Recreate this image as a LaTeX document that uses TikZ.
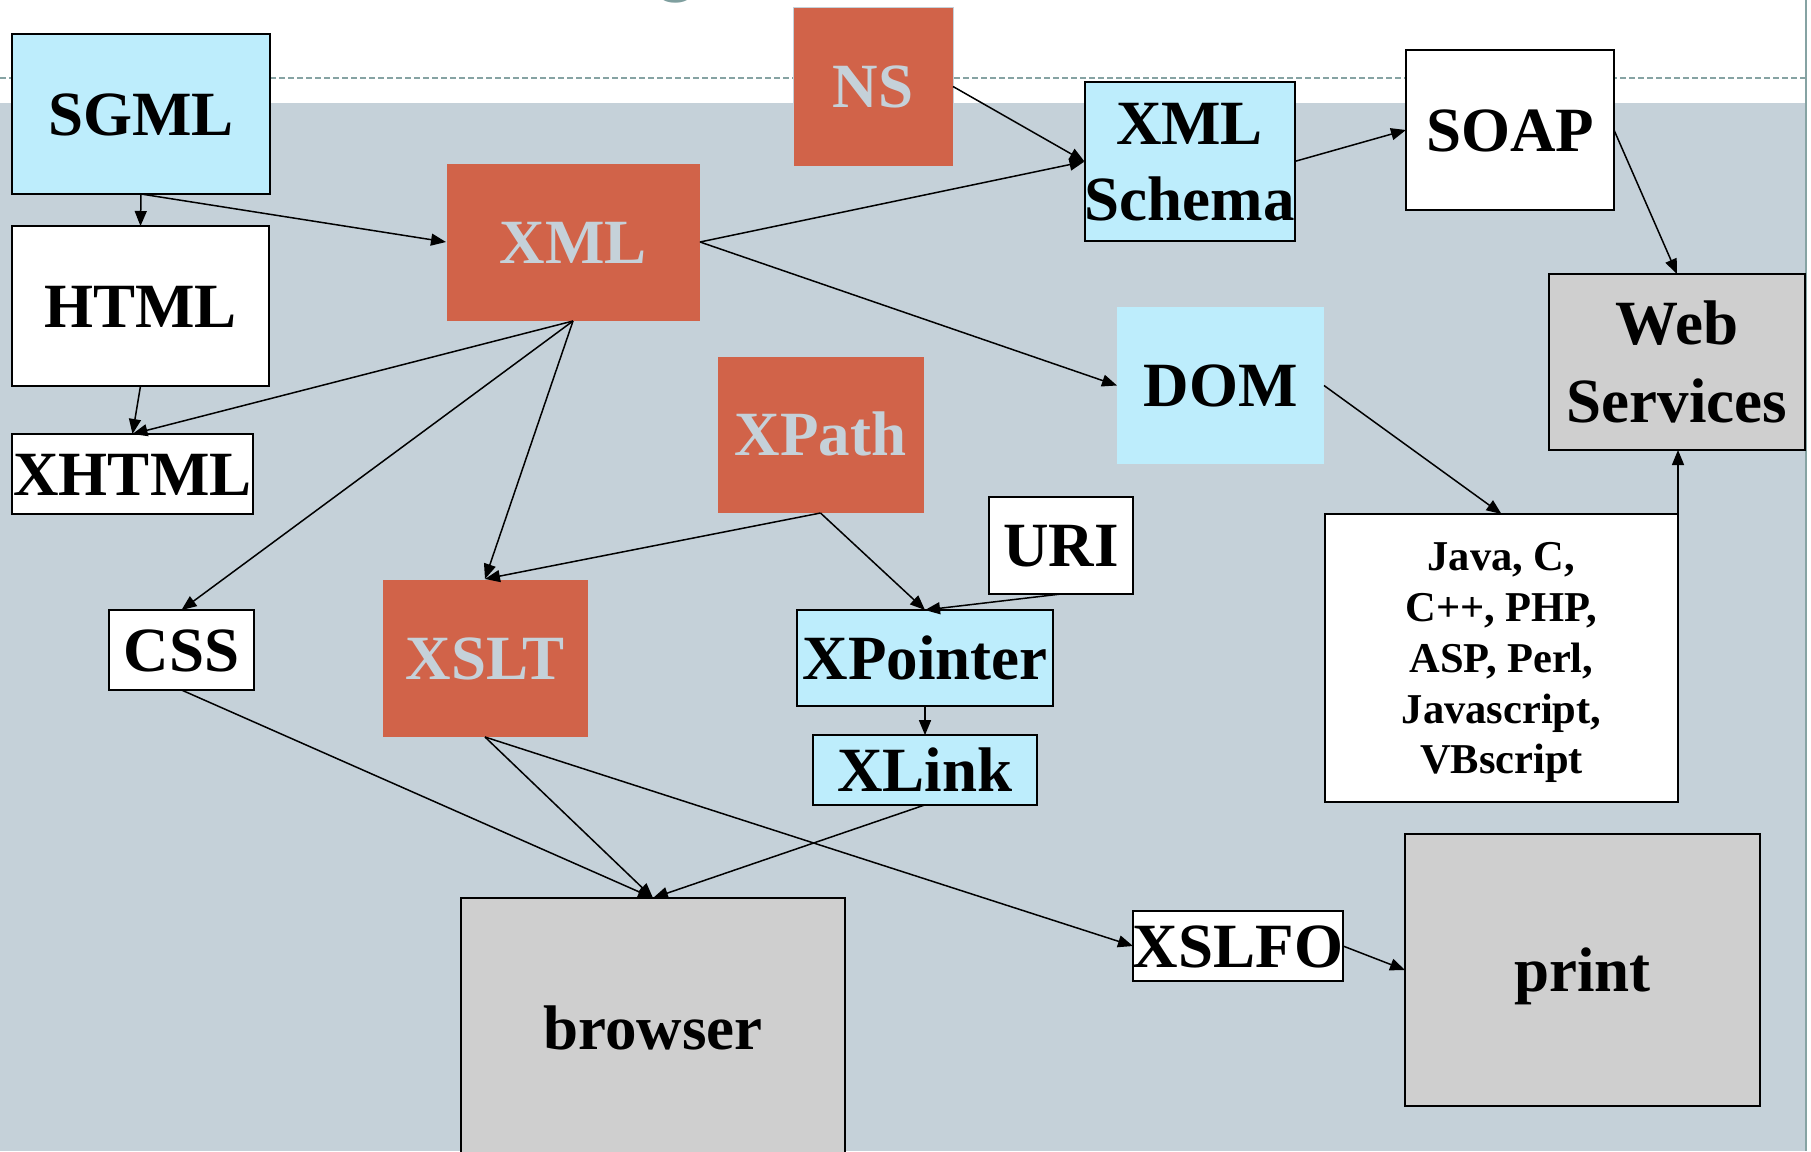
\documentclass[tikz,border=0pt]{standalone}
\usepackage{fontspec}
\setmainfont{Liberation Serif}
\newfontfamily\titlefont{Liberation Sans}
\usetikzlibrary{arrows.meta}
\definecolor{bgc}{HTML}{C5D1D9}
\definecolor{orng}{HTML}{D16349}
\definecolor{lblue}{HTML}{BDEDFC}
\definecolor{gbox}{HTML}{CFCFCF}
\definecolor{tealline}{HTML}{86A3A3}
\definecolor{titlec}{HTML}{7F9F9F}
\newcommand\mystrut{\rule[-0.216em]{0pt}{1.107em}}
\newcommand\bigf{\fontsize{63bp}{76bp}\selectfont\bfseries}
\newcommand\smallf{\fontsize{42.5bp}{50.8bp}\selectfont\bfseries}
\tikzset{
  sz/.style 2 args={minimum width=#1bp, minimum height=#2bp},
  box/.style={rectangle, inner sep=0pt, outer sep=0pt, font=\bigf, align=center},
  bluebox/.style={box, fill=lblue, draw=black, line width=2bp},
  whitebox/.style={box, fill=white, draw=black, line width=2bp},
  graybox/.style={box, fill=gbox, draw=black, line width=2bp},
  orangebox/.style={box, fill=orng, draw=bgc, line width=1bp, text=bgc},
  plainblue/.style={box, fill=lblue},
  arr/.style={line width=1.5bp, draw=black, -{Triangle[length=15bp,width=12bp]}},
}
\begin{document}
\begin{tikzpicture}[x=1bp,y=-1bp]
\useasboundingbox (0,0) rectangle (1811,1151);
% background
\fill[white] (0,0) rectangle (1811,1151);
\fill[bgc] (0,103) rectangle (1806,1151);
\draw[tealline, line width=1.5bp, dash pattern=on 6bp off 3bp] (0,78) -- (1806,78);
\draw[tealline, line width=2bp] (1806,0) -- (1806,1151);
\node[anchor=base, text=titlec, font=\fontsize{90bp}{90bp}\selectfont\titlefont, inner sep=0pt] (title) at (677,-16) {g};
% nodes
\node[bluebox, sz={258}{160}] (sgml) at (141,114) {\mystrut SGML};
\node[whitebox, sz={257}{160}] (html) at (140.5,306) {\mystrut HTML};
\node[whitebox, sz={241}{80}] (xhtml) at (132.5,474) {\mystrut XHTML};
\node[orangebox, sz={254}{158}] (xml) at (573,242) {\mystrut XML};
\node[orangebox, sz={160}{159}] (ns) at (873,86.5) {\mystrut NS};
\node[bluebox, sz={209}{159}, font=\fontsize{63bp}{76bp}\selectfont\bfseries] (schema) at (1189.5,161.5) {\mystrut XML\\\mystrut Schema};
\node[whitebox, sz={208}{160}] (soap) at (1510,130) {\mystrut SOAP};
\node[graybox, sz={256}{176}, font=\fontsize{63bp}{78bp}\selectfont\bfseries] (ws) at (1677,362) {\mystrut Web\\\mystrut Services};
\node[plainblue, sz={207}{157}] (dom) at (1220.5,385.5) {\mystrut DOM};
\node[orangebox, sz={207}{157}] (xpath) at (820.5,434.5) {\mystrut XPath};
\node[whitebox, sz={144}{97}] (uri) at (1061,545.5) {\mystrut URI};
\node[whitebox, sz={353}{288}, font=\smallf] (java) at (1501.5,658) {\mystrut Java, C,\\\mystrut C++, PHP,\\\mystrut ASP, Perl,\\\mystrut Javascript,\\\mystrut VBscript};
\node[whitebox, sz={145}{80}] (css) at (181.5,650) {\mystrut CSS};
\node[orangebox, sz={206}{158}] (xslt) at (485,658) {\mystrut XSLT};
\node[bluebox, sz={256}{96}] (xpointer) at (925,658) {\mystrut XPointer};
\node[bluebox, sz={224}{64}] (xlink) at (925,770) {\mystrut XLink};
\node[graybox, sz={384}{260}] (browser) at (653,1028) {\mystrut browser};
\node[whitebox, sz={210}{64}] (xslfo) at (1238,946) {\mystrut XSLFO};
\node[graybox, sz={355}{272}] (print) at (1582.5,970) {\mystrut print};
% connectors
\draw[arr] (sgml.south) -- (html.north);
\draw[arr] (sgml.south) -- (xml.west);
\draw[arr] (html.south) -- (xhtml.north);
\draw[arr] (xml.south) -- (xhtml.north);
\draw[arr] (xml.south) -- (css.north);
\draw[arr] (xml.south) -- (xslt.north);
\draw[arr] (xml.east) -- (schema.west);
\draw[arr] (xml.east) -- (dom.west);
\draw[arr] (ns.east) -- (schema.west);
\draw[arr] (schema.east) -- (soap.west);
\draw[arr] (soap.east) -- (ws.north);
\draw[arr] (dom.east) -- (java.north);
\draw[arr] (java.north east) -- (java.north east |- ws.south);
\draw[arr] (xpath.south) -- (xslt.north);
\draw[arr] (xpath.south) -- (xpointer.north);
\draw[arr] (uri.south) -- (xpointer.north);
\draw[arr] (xpointer.south) -- (xlink.north);
\draw[arr] (css.south) -- (browser.north);
\draw[arr] (xslt.south) -- (browser.north);
\draw[arr] (xlink.south) -- (browser.north);
\draw[arr] (xslt.south) -- (xslfo.west);
\draw[arr] (xslfo.east) -- (print.west);
\end{tikzpicture}
\end{document}
